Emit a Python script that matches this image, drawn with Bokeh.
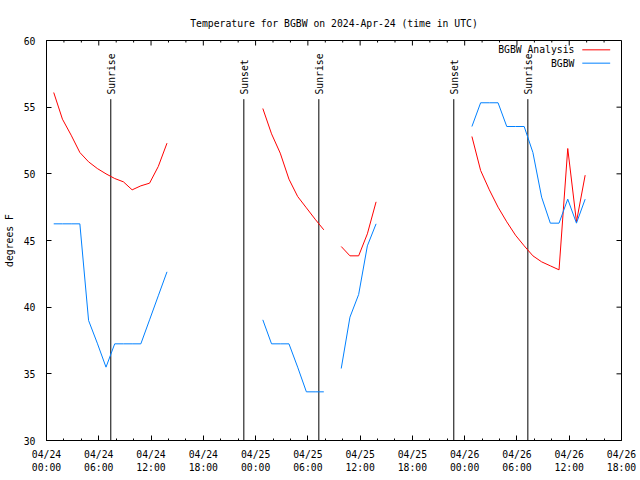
import math
from bokeh.plotting import figure
from bokeh.models import FixedTicker, Range1d
from bokeh.embed import file_html
from bokeh.resources import INLINE
from bokeh.core.properties import value

NAN = float("nan")

# hours since 2024-04-24 00:00 UTC (observations at hh:50)
obs_hours = [0.83, 1.83, 2.83, 3.83, 4.83, 5.83, 6.83, 7.83, 8.83, 9.83, 10.83, 11.83, 12.83, 13.83,
             14.83,
             24.83, 25.83, 26.83, 27.83, 28.83, 29.83, 30.83, 31.83,
             32.83,
             33.83, 34.83, 35.83, 36.83, 37.83,
             38.83,
             48.83, 49.83, 50.83, 51.83, 52.83, 53.83, 54.83, 55.83, 56.83, 57.83, 58.83, 59.83, 60.83, 61.83]

analysis_temp = [56.1, 54.1, 52.9, 51.6, 50.9, 50.4, 50.0, 49.65, 49.4, 48.8, 49.1, 49.3, 50.55, 52.3,
                 NAN,
                 54.9, 53.0, 51.55, 49.6, 48.3, 47.45, 46.6, 45.8,
                 NAN,
                 44.55, 43.85, 43.85, 45.5, 47.9,
                 NAN,
                 52.8, 50.25, 48.8, 47.5, 46.4, 45.4, 44.6, 43.85, 43.4, 43.1, 42.8, 51.9, 46.4, 49.9]

obs_temp = [46.25, 46.25, 46.25, 46.25, 39.0, 37.3, 35.5, 37.25, 37.25, 37.25, 37.25, 39.05, 40.85, 42.65,
            NAN,
            39.05, 37.25, 37.25, 37.25, 35.5, 33.65, 33.65, 33.65,
            NAN,
            35.4, 39.25, 40.95, 44.6, 46.25,
            NAN,
            53.55, 55.33, 55.33, 55.33, 53.55, 53.55, 53.55, 51.6, 48.25, 46.3, 46.3, 48.1, 46.3, 48.1]

sun_hours = [7.38, 22.65, 31.26, 46.75, 55.25]
sun_labels = ["Sunrise", "Sunset", "Sunrise", "Sunset", "Sunrise"]

x_ticks = [0, 6, 12, 18, 24, 30, 36, 42, 48, 54, 60, 66]
x_tick_labels = ["04/24\n00:00", "04/24\n06:00", "04/24\n12:00", "04/24\n18:00",
                 "04/25\n00:00", "04/25\n06:00", "04/25\n12:00", "04/25\n18:00",
                 "04/26\n00:00", "04/26\n06:00", "04/26\n12:00", "04/26\n18:00"]
x_minor = [h for h in range(0, 67, 2) if h % 6 != 0]
y_ticks = [30, 35, 40, 45, 50, 55, 60]

series_names = ["BGBW Analysis", "BGBW"]
series_colors = ["#ff0000", "#0080ff"]

X_MIN, X_MAX = 0, 66
Y_MIN, Y_MAX = 30, 60

FONT = "DejaVu Sans Mono"
FS = "9.75px"

p = figure(width=640, height=480, x_range=Range1d(X_MIN, X_MAX), y_range=Range1d(Y_MIN, Y_MAX),
           output_backend="svg", toolbar_location=None,
           title="Temperature for BGBW on 2024-Apr-24 (time in UTC)")
p.min_border_left = 46
p.min_border_right = 19
p.min_border_top = 40
p.min_border_bottom = 40
p.xgrid.visible = False
p.ygrid.visible = False
p.outline_line_color = "black"
p.outline_line_width = 1
p.background_fill_color = "white"
p.border_fill_color = "white"

p.title.text_font = FONT
p.title.text_font_size = FS
p.title.text_font_style = "normal"
p.title.align = "center"
p.title.text_color = "black"
p.title.standoff = 24

xa = p.xaxis[0]
xa.ticker = FixedTicker(ticks=x_ticks, minor_ticks=x_minor)
xa.major_label_overrides = {t: l for t, l in zip(x_ticks, x_tick_labels)}
ya = p.yaxis[0]
ya.ticker = FixedTicker(ticks=y_ticks)
ya.axis_label = "degrees F"

for ax in (xa, ya):
    ax.major_label_text_font = FONT
    ax.major_label_text_font_size = FS
    ax.major_label_text_color = "black"
    ax.axis_line_color = "black"
    ax.major_tick_in = 5
    ax.major_tick_out = 0
    ax.minor_tick_in = 2
    ax.minor_tick_out = 0
    ax.major_tick_line_color = "black"
    ax.minor_tick_line_color = "black"
ya.minor_tick_in = 0
ya.axis_label_text_font = FONT
ya.axis_label_text_font_size = FS
ya.axis_label_text_font_style = "normal"
ya.axis_label_text_color = "black"
ya.axis_label_standoff = 6
ya.major_label_standoff = 11
xa.major_label_standoff = 8

# mirrored ticks on top and right edges (pixel lengths)
p.ray(x=x_ticks, y=[Y_MAX] * len(x_ticks), length=5, angle=-math.pi / 2,
      length_units="screen", line_color="black", line_width=1)
p.ray(x=x_minor, y=[Y_MAX] * len(x_minor), length=2, angle=-math.pi / 2,
      length_units="screen", line_color="black", line_width=1)
p.ray(x=[X_MAX] * len(y_ticks), y=y_ticks, length=5, angle=math.pi,
      length_units="screen", line_color="black", line_width=1)

# sunrise / sunset markers
line_top = 55.6
label_base = 55.95
p.segment(x0=sun_hours, y0=[Y_MIN] * len(sun_hours), x1=sun_hours, y1=[line_top] * len(sun_hours),
          line_color="black", line_width=1)
p.text(x=sun_hours, y=[label_base] * len(sun_hours), text=sun_labels, angle=math.pi / 2,
       text_align="left", text_baseline="middle", text_font=value(FONT),
       text_font_size=value(FS), text_color="black", x_offset=1)

# data lines
p.line(obs_hours, analysis_temp, line_color=series_colors[0], line_width=1)
p.line(obs_hours, obs_temp, line_color=series_colors[1], line_width=1)

# gnuplot-style key (label left, sample right)
key_text_x = 60.6
key_line_x0 = 61.5
key_line_x1 = 64.7
key_y = [59.3, 58.3]
p.text(x=[key_text_x] * 2, y=key_y, text=series_names, text_align="right",
       text_baseline="middle", text_font=value(FONT), text_font_size=value(FS), text_color="black")
p.segment(x0=[key_line_x0] * 2, y0=key_y, x1=[key_line_x1] * 2, y1=key_y,
          line_color=series_colors, line_width=1)

open("out.html", "w").write(file_html(p, INLINE))
